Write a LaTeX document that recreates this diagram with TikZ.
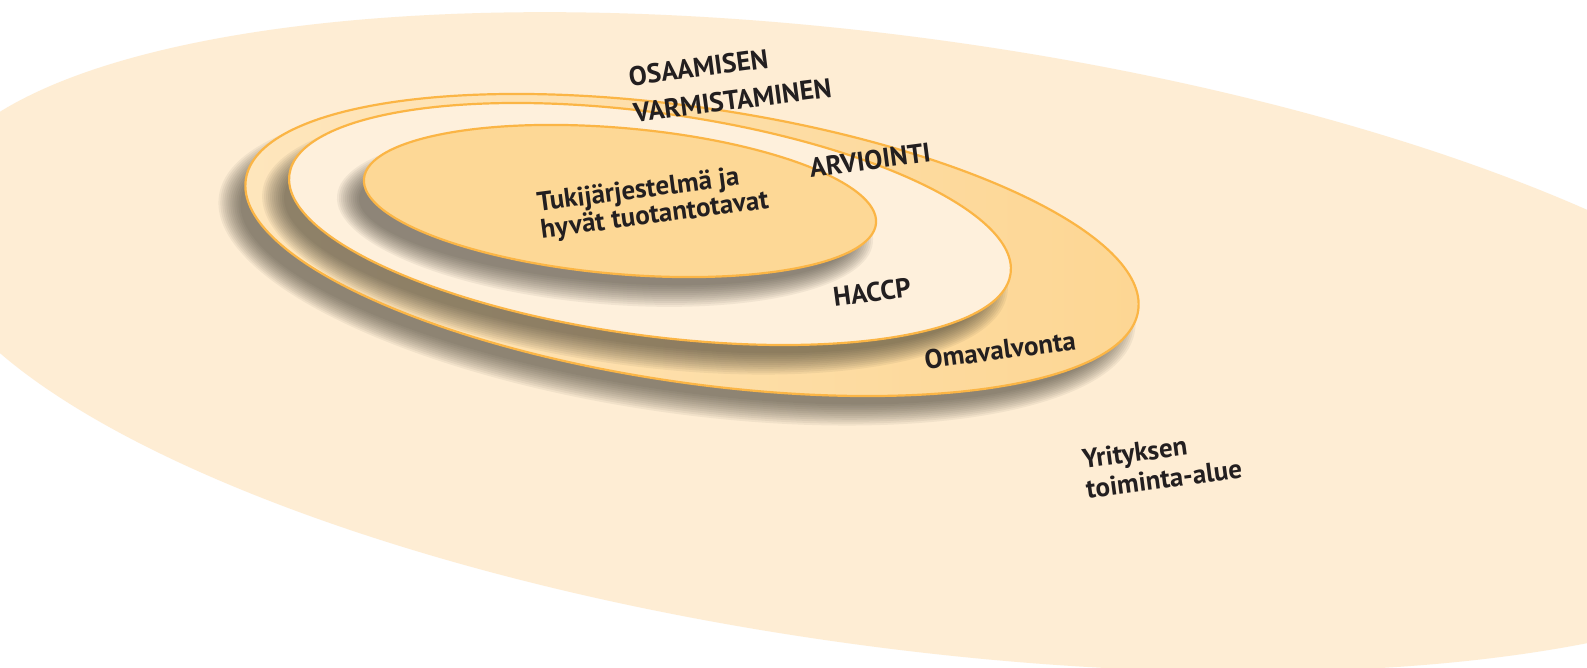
\documentclass[tikz,border=0pt]{standalone}
\usepackage{fontspec}
\setmainfont{PT Sans}

\definecolor{areafill}{HTML}{FEEDD4}
\definecolor{ringlight}{HTML}{FEE6BD}
\definecolor{ringfill}{HTML}{FDD693}
\definecolor{creamfill}{HTML}{FEF0DC}
\definecolor{corefill}{HTML}{FDD896}
\definecolor{rimline}{HTML}{FBB545}
\definecolor{shadowcol}{HTML}{3E3A30}
\definecolor{labeltext}{HTML}{231F20}

\tikzset{
  lbl/.style={font=\bfseries\fontsize{13.5}{13.5}\selectfont, text=labeltext, rotate=7.5, align=left, inner sep=0pt},
  rim/.style={draw=rimline, line width=1.1pt},
  ringbody/.style={left color=ringlight, right color=ringfill},
  creambody/.style={fill=creamfill},
  corebody/.style={fill=corefill},
}

\begin{document}
\begin{tikzpicture}[x=0.5pt, y=-0.5pt]
\useasboundingbox (0,0) rectangle (1587,668);
\fill[white] (0,0) rectangle (1587,668);

% company area
\begin{scope}
\clip (0,0) rectangle (1587,668);
\fill[areafill, rotate around={-7.72:(896,342)}] (896,342) ellipse [x radius=982, y radius=305];
\end{scope}

% nested ovals with soft shadows
\foreach \cx/\cy/\ra/\rb/\ang/\sty in {692/245/451/137.5/-8.36/ringbody, 650/224/364/111.4/-7.83/creambody, 620/201/257/73/-4.98/corebody}{
  \foreach \s in {0,...,11}
    \fill[shadowcol, opacity=0.065, rotate around={\ang:(\cx-15,\cy+18)}] (\cx-15,\cy+18) ellipse [x radius=\ra-10+2*\s, y radius=\rb-10+2*\s];
  \draw[rim, \sty, rotate around={\ang:(\cx,\cy)}] (\cx,\cy) ellipse [x radius=\ra, y radius=\rb];
}

\node (osaaminen) [lbl, font=\bfseries\fontsize{13.5}{18.5}\selectfont] at (730,82) {OSAAMISEN\\VARMISTAMINEN};
\node (arviointi) [lbl] at (870,160) {ARVIOINTI};
\node (tuki) [lbl] at (653,203) {Tukijärjestelmä ja\\hyvät tuotantotavat};
\node (haccp) [lbl] at (872,292) {HACCP};
\node (omavalvonta) [lbl] at (1000,350) {Omavalvonta};
\node (yritys) [lbl, font=\bfseries\fontsize{13.5}{15}\selectfont] at (1162,464) {Yrityksen\\toiminta-alue};
\end{tikzpicture}
\end{document}
